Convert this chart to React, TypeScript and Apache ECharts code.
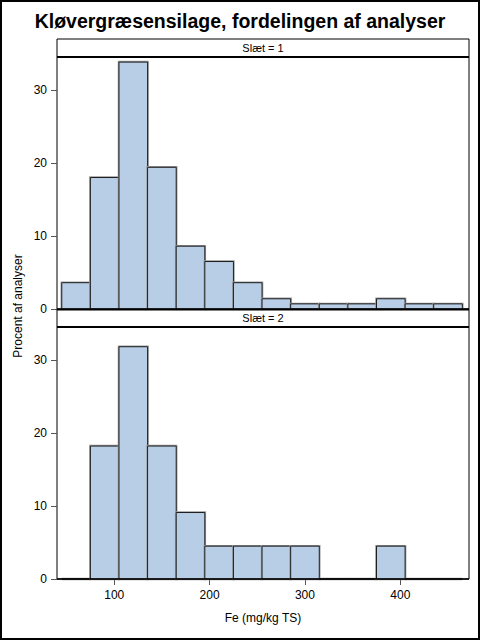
import React, { useEffect, useRef } from "react";
import * as echarts from "echarts";

const TITLE = "Kløvergræsensilage, fordelingen af analyser";
const PANEL_LABELS = ["Slæt = 1", "Slæt = 2"];
const X_TITLE = "Fe (mg/kg TS)";
const Y_TITLE = "Procent af analyser";
const BIN_CENTERS = [60, 90, 120, 150, 180, 210, 240, 270, 300, 330, 360, 390, 420, 450];
const BIN_WIDTH = 30;
const SLAET1_PCT = [3.6, 18.0, 33.8, 19.4, 8.6, 6.5, 3.6, 1.4, 0.7, 0.7, 0.7, 1.4, 0.7, 0.7];
const SLAET2_PCT = [0, 18.2, 31.8, 18.2, 9.1, 4.5, 4.5, 4.5, 4.5, 0, 0, 4.5, 0, 0];
const X_TICKS = [100, 200, 300, 400];
const Y_TICKS = [0, 10, 20, 30];

const FONT = "Liberation Sans, Arial, sans-serif";
const FILL = "#B8CEE6";

export default function App() {
  const ref = useRef<HTMLDivElement>(null);
  useEffect(() => {
    document.body.style.margin = "0";
    const chart = echarts.init(ref.current!, null, { renderer: "svg" });
    const L = 57, W = 412, H = 252;
    const tops = [57, 327];

    const renderItem = (params: any, api: any) => {
      const c = api.value(0);
      const v = api.value(1);
      const p0 = api.coord([c - BIN_WIDTH / 2, v]);
      const p1 = api.coord([c + BIN_WIDTH / 2, 0]);
      const shape = { x: p0[0], y: p0[1], width: p1[0] - p0[0], height: p1[1] - p0[1] };
      return {
        type: "group",
        children: [
          { type: "rect", shape, style: { fill: "none", stroke: "#9a9a9a", lineWidth: 2.5 } },
          { type: "rect", shape, style: { fill: FILL, stroke: "#1e1e1e", lineWidth: 1 } },
        ],
      };
    };

    const mkX = (i: number) => ({
      type: "value",
      gridIndex: i,
      min: 40,
      max: 472,
      axisLine: { show: false },
      splitLine: { show: false },
      axisTick: {
        show: i === 1,
        length: 6,
        customValues: X_TICKS,
        lineStyle: { color: "#555" },
      },
      axisLabel: {
        show: i === 1,
        customValues: X_TICKS,
        margin: 10,
        fontSize: 12,
        color: "#000",
        fontFamily: FONT,
      },
    });
    const mkY = (i: number) => ({
      type: "value",
      gridIndex: i,
      min: 0,
      max: 34.5,
      axisLine: { show: false },
      splitLine: { show: false },
      axisTick: { show: true, length: 6, customValues: Y_TICKS, lineStyle: { color: "#555" } },
      axisLabel: {
        customValues: Y_TICKS,
        margin: 10,
        fontSize: 12,
        color: "#000",
        fontFamily: FONT,
      },
    });

    const strip = (y: number, label: string, thickTop: boolean) => [
      { type: "rect", shape: { x: L, y, width: W, height: 18 }, style: { fill: "#fff", stroke: "#000", lineWidth: 1 }, z: 10 },
      ...(thickTop
        ? [{ type: "line", shape: { x1: L, y1: y + 0.5, x2: L + W, y2: y + 0.5 }, style: { stroke: "#000", lineWidth: 2 }, z: 11 }]
        : []),
      { type: "line", shape: { x1: L, y1: y + 18, x2: L + W, y2: y + 18 }, style: { stroke: "#000", lineWidth: 2 }, z: 11 },
      {
        type: "text",
        x: L + W / 2,
        y: y + 9,
        style: { text: label, fontSize: 11, fontFamily: FONT, fill: "#000", textAlign: "center", textVerticalAlign: "middle" },
        z: 12,
      },
    ];

    chart.setOption({
      animation: false,
      backgroundColor: "#fff",
      grid: tops.map((t) => ({ left: L, top: t, width: W, height: H, show: true, borderColor: "#000", borderWidth: 1, backgroundColor: "transparent" })),
      xAxis: [mkX(0), mkX(1)],
      yAxis: [mkY(0), mkY(1)],
      series: [SLAET1_PCT, SLAET2_PCT].map((pct, i) => ({
        type: "custom",
        xAxisIndex: i,
        yAxisIndex: i,
        renderItem,
        encode: { x: 0, y: 1 },
        data: BIN_CENTERS.map((c, k) => [c, pct[k]]),
        z: 2,
      })),
      graphic: [
        { type: "rect", shape: { x: 1, y: 1, width: 478, height: 638 }, style: { fill: "none", stroke: "#000", lineWidth: 2 }, z: 20 },
        {
          type: "text",
          x: 240,
          y: 21,
          style: { text: TITLE, fontSize: 19.5, fontWeight: "bold", fontFamily: FONT, fill: "#000", textAlign: "center", textVerticalAlign: "middle" },
        },
        ...strip(39, PANEL_LABELS[0], false),
        ...strip(309, PANEL_LABELS[1], true),
        { type: "line", shape: { x1: L, y1: 579, x2: L + W, y2: 579 }, style: { stroke: "#000", lineWidth: 1.5 }, z: 11 },
        {
          type: "text",
          x: L + W / 2,
          y: 618,
          style: { text: X_TITLE, fontSize: 12, fontFamily: FONT, fill: "#000", textAlign: "center", textVerticalAlign: "middle" },
        },
        {
          type: "text",
          x: 18,
          y: 306,
          rotation: Math.PI / 2,
          style: { text: Y_TITLE, fontSize: 12, fontFamily: FONT, fill: "#000", textAlign: "center", textVerticalAlign: "middle" },
        },
      ],
    });
    return () => chart.dispose();
  }, []);
  return <div ref={ref} style={{ width: 480, height: 640 }} />;
}
